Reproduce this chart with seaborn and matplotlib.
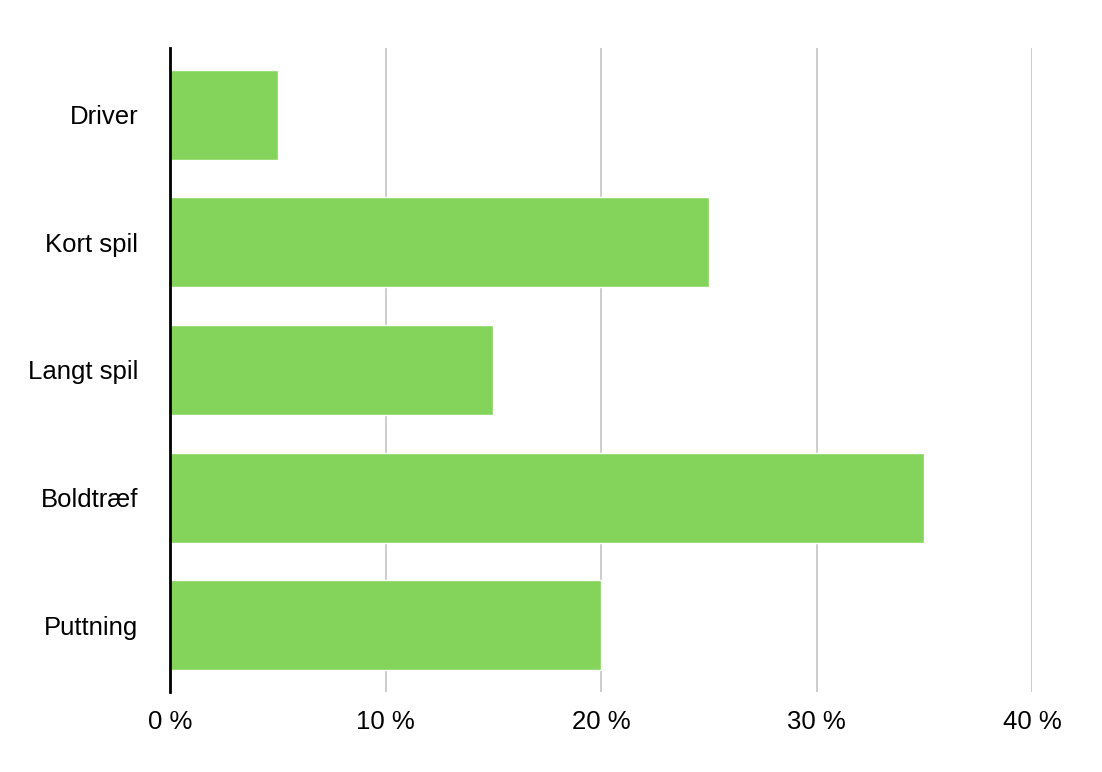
import matplotlib
matplotlib.use("Agg")
import matplotlib.pyplot as plt
import seaborn as sns
import pandas as pd

categories = ["Driver", "Kort spil", "Langt spil", "Boldtræf", "Puttning"]
values = [5, 25, 15, 35, 20]
xticks = [0, 10, 20, 30, 40]
xticklabels = ["0 %", "10 %", "20 %", "30 %", "40 %"]

sns.set_theme(style="white")
plt.rcParams['font.family'] = ['Liberation Sans', 'DejaVu Sans']

df = pd.DataFrame({"cat": categories, "val": values})

fig = plt.figure(figsize=(11.02, 7.72), dpi=100)
ax = fig.add_axes([170/1102, 1-692/772, (1032-170)/1102, (692-48)/772])

sns.barplot(data=df, y="cat", x="val", orient="h", color="#84D45B",
            saturation=1, width=0.706, ax=ax, order=categories)

ax.set_xlim(0, 40)
ax.set_ylim(4.525, -0.525)
ax.set_xticks(xticks)
ax.set_xticklabels(xticklabels, fontsize=18.5, color="black")
ax.tick_params(axis='y', labelsize=18.5, labelcolor="black", length=0, pad=23)
ax.tick_params(axis='x', length=0, pad=13)
ax.set_xlabel("")
ax.set_ylabel("")
ax.xaxis.grid(True, color="#c4c4c4", linewidth=1.2)
ax.set_axisbelow(True)
for s in ["top", "right", "bottom"]:
    ax.spines[s].set_visible(False)
ax.spines["left"].set_color("black")
ax.spines["left"].set_linewidth(2)
ax.spines["left"].set_zorder(5)

fig.savefig("out.png", dpi=100, facecolor="white")
